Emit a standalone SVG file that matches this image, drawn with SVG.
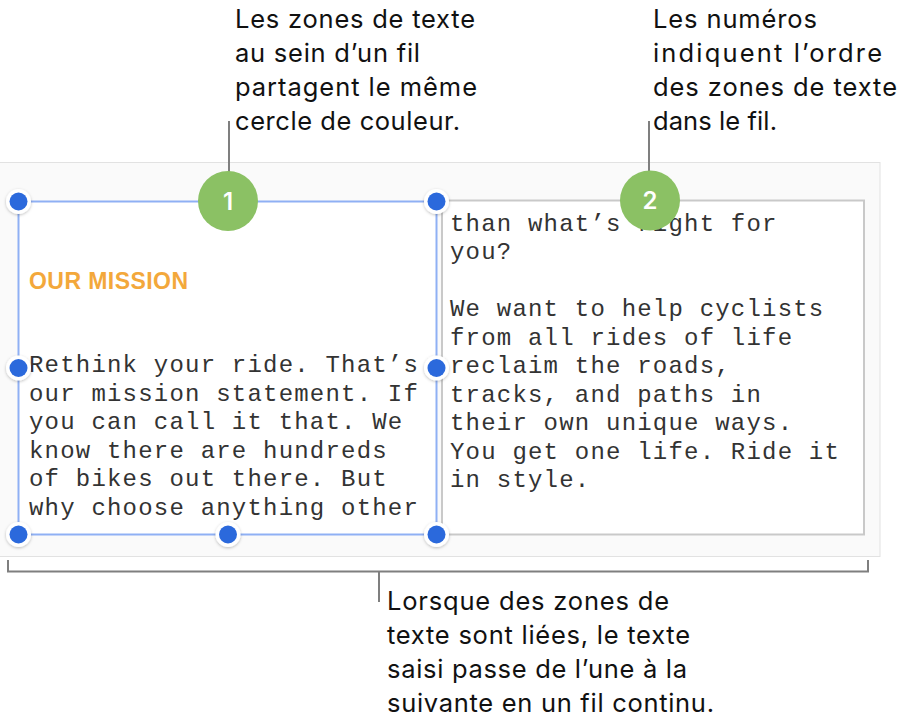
<svg xmlns="http://www.w3.org/2000/svg" width="910" height="724" viewBox="0 0 910 724">
<style>
.call{font-family:Inter,"Liberation Sans",Arial,sans-serif;font-size:25.5px;fill:#111}
.mono{font-family:"Liberation Mono","Courier New",monospace;font-size:24px;letter-spacing:1.2px;fill:#333}
.lead{stroke:#7f7f7f;stroke-width:2;fill:none}
.num{font-family:Inter,"Liberation Sans",Arial,sans-serif;font-size:24px;font-weight:600;fill:#fff;text-anchor:middle}
.badge{fill:#8bc164}
.hring{fill:#fff;filter:url(#sh)}
.hdot{fill:#2b69dc}
</style>
<defs>
<filter id="sh" x="-50%" y="-50%" width="200%" height="200%">
<feDropShadow dx="0" dy="1" stdDeviation="1.5" flood-color="#000" flood-opacity="0.25"/>
</filter>
</defs>
<g id="panel">
<rect x="-1" y="162.5" width="881" height="394" fill="#fafafa" stroke="#e2e2e2" stroke-width="1"/>
</g>
<g id="box2">
<rect x="442" y="200.5" width="422" height="334" fill="#fff" stroke="#c9c9c9" stroke-width="2"/>
<text class="mono"><tspan x="450" y="230.5">than what’s right for</tspan><tspan x="450" y="259">you?</tspan><tspan x="450" y="316">We want to help cyclists</tspan><tspan x="450" y="344.5">from all rides of life</tspan><tspan x="450" y="373">reclaim the roads,</tspan><tspan x="450" y="401.5">tracks, and paths in</tspan><tspan x="450" y="430">their own unique ways.</tspan><tspan x="450" y="458.5">You get one life. Ride it</tspan><tspan x="450" y="487">in style.</tspan></text>
</g>
<g id="box1">
<rect x="18.5" y="201.5" width="418" height="333" fill="#fff" stroke="#8fb0f4" stroke-width="2"/>
<text x="29" y="288.5" font-family="'Liberation Sans',Arial,sans-serif" font-size="23" font-weight="bold" fill="#f3a83b" textLength="159">OUR MISSION</text>
<text class="mono"><tspan x="29" y="372">Rethink your ride. That’s</tspan><tspan x="29" y="400.5">our mission statement. If</tspan><tspan x="29" y="429">you can call it that. We</tspan><tspan x="29" y="457.5">know there are hundreds</tspan><tspan x="29" y="486">of bikes out there. But</tspan><tspan x="29" y="514.5">why choose anything other</tspan></text>
</g>
<g id="handles">
<circle class="hring" cx="18.5" cy="201.5" r="12.5"/><circle class="hdot" cx="18.5" cy="201.5" r="9"/>
<circle class="hring" cx="436.5" cy="201.5" r="12.5"/><circle class="hdot" cx="436.5" cy="201.5" r="9"/>
<circle class="hring" cx="18.5" cy="368" r="12.5"/><circle class="hdot" cx="18.5" cy="368" r="9"/>
<circle class="hring" cx="436.5" cy="368" r="12.5"/><circle class="hdot" cx="436.5" cy="368" r="9"/>
<circle class="hring" cx="18.5" cy="534.5" r="12.5"/><circle class="hdot" cx="18.5" cy="534.5" r="9"/>
<circle class="hring" cx="228" cy="534.5" r="12.5"/><circle class="hdot" cx="228" cy="534.5" r="9"/>
<circle class="hring" cx="436.5" cy="534.5" r="12.5"/><circle class="hdot" cx="436.5" cy="534.5" r="9"/>
</g>
<g id="connectors">
<line class="lead" x1="229" y1="121" x2="229" y2="172"/>
<line class="lead" x1="649" y1="121" x2="649" y2="172"/>
<polyline class="lead" points="8,560 8,571.5 868,571.5 868,560"/>
<line class="lead" x1="379" y1="571.5" x2="379" y2="602"/>
</g>
<g id="badge1">
<circle class="badge" cx="228" cy="201" r="30"/>
<text class="num" x="228" y="209.5">1</text>
</g>
<g id="badge2">
<circle class="badge" cx="650" cy="200.5" r="30"/>
<text class="num" x="650" y="209">2</text>
</g>
<g id="callout1">
<text class="call"><tspan x="235" y="28" textLength="240">Les zones de texte</tspan><tspan x="235" y="62" textLength="185">au sein d’un fil</tspan><tspan x="235" y="96" textLength="242">partagent le même</tspan><tspan x="235" y="130" textLength="225">cercle de couleur.</tspan></text>
</g>
<g id="callout2">
<text class="call"><tspan x="653" y="28" textLength="164">Les numéros</tspan><tspan x="653" y="62" textLength="229">indiquent l’ordre</tspan><tspan x="653" y="96" textLength="244">des zones de texte</tspan><tspan x="653" y="130" textLength="124">dans le fil.</tspan></text>
</g>
<g id="callout3">
<text class="call"><tspan x="387" y="610" textLength="282">Lorsque des zones de</tspan><tspan x="387" y="644" textLength="303">texte sont liées, le texte</tspan><tspan x="387" y="678" textLength="300">saisi passe de l’une à la</tspan><tspan x="387" y="712" textLength="327">suivante en un fil continu.</tspan></text>
</g>
</svg>
